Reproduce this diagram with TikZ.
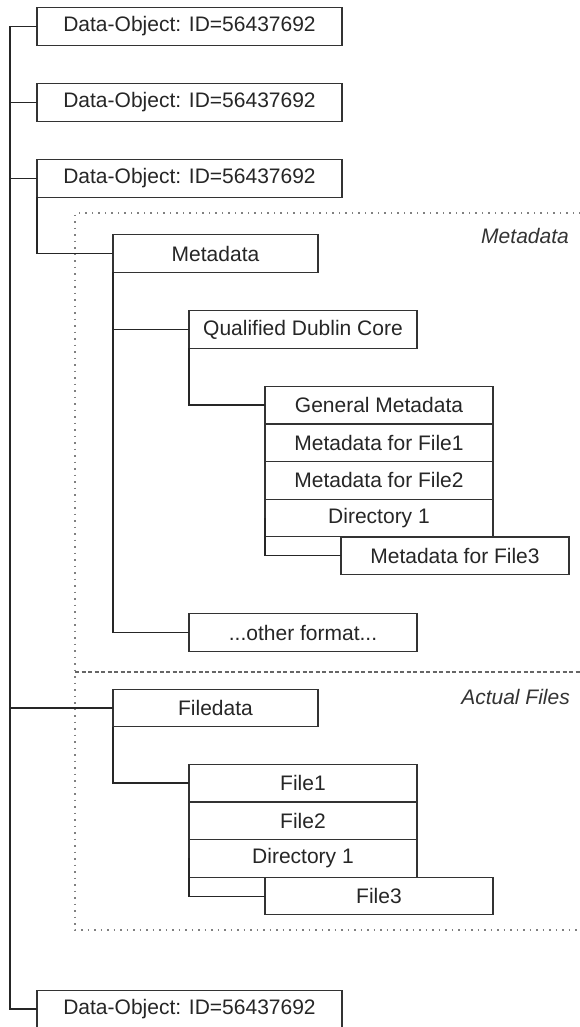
\documentclass[tikz,border=0pt]{standalone}
\usepackage{fontspec}
\setmainfont{Liberation Sans}
\usepackage{tikz}
\usetikzlibrary{positioning}
\tikzstyle{obj} = [rectangle, draw=black!80, fill=white, line width=1.2pt, minimum width=305pt, minimum height=37.5pt, inner sep=0pt, outer sep=0pt, text centered, text=black!85, font=\fontsize{21}{25}\selectfont]
\tikzstyle{part} = [obj, minimum width=205pt]
\tikzstyle{entry} = [obj, minimum width=228pt]
\tikzstyle{line} = [draw=black!85, line width=1.2pt]
\tikzstyle{trunk} = [line, line width=1.8pt]
\tikzstyle{area} = [draw=gray, line width=1.2pt, dash pattern=on 1.5pt off 5pt]
\tikzstyle{split} = [draw=black!60, line width=1.2pt, dash pattern=on 4pt off 2.5pt]
\tikzstyle{tag} = [anchor=east, inner sep=0pt, text=black!80, font=\fontsize{21}{25}\selectfont\itshape]

\begin{document}
\begin{tikzpicture}[x=1pt, y=-1pt, node distance=76pt]
    \useasboundingbox (0,0) rectangle (579,1027);
    % Areas
    \path [area] (600,213) -- (75,213) -- (75,930) -- (600,930);
    \path [split] (75,672) -- (600,672);
    \node [tag] (metatag) at (569,236) {Metadata};
    \node [tag] (filetag) at (570,697) {Actual Files};

    % Nodes
    \node [obj] (obj1) at (189.5,26.5) {Data-Object: ID=56437692};
    \node [obj, below of=obj1] (obj2) {Data-Object: ID=56437692};
    \node [obj, below of=obj2] (obj3) {Data-Object: ID=56437692};
    \node [part] (meta) at (215.5,253.5) {Metadata};
    \node [entry] (qdc) at (303,329.5) {Qualified Dublin Core};
    \node [entry] (gen) at (379,405) {General Metadata};
    \node [entry, below of=gen, node distance=37.7pt] (mfile1) {Metadata for File1};
    \node [entry, below of=mfile1, node distance=37.7pt] (mfile2) {Metadata for File2};
    \node [entry, below of=mfile2, node distance=37.7pt] (mdir) {Directory 1};
    \node [entry, below of=mdir, node distance=37.7pt, xshift=76pt] (mfile3) {Metadata for File3};
    \node [entry] (other) at (303,632.5) {...other format...};
    \node [part] (fdata) at (215.5,708) {Filedata};
    \node [entry] (file1) at (303,783) {File1};
    \node [entry, below of=file1, node distance=37.7pt] (file2) {File2};
    \node [entry, below of=file2, node distance=37.7pt] (fdir) {Directory 1};
    \node [entry, below of=fdir, node distance=37.7pt, xshift=76pt] (file3) {File3};
    \node [obj] (obj4) at (189.5,1009) {Data-Object: ID=56437692};
    \coordinate (rail) at (10,26.5);

    % Edges
    \path [trunk] (obj1.west) -- (rail) -- (rail |- obj4.west) -- (obj4.west);
    \path [trunk] (obj2.west) -- (rail |- obj2.west);
    \path [trunk] (obj3.west) -- (rail |- obj3.west);
    \path [line] (fdata.west) -- (rail |- fdata.west);
    \path [line] (obj3.south west) |- (meta.west);
    \path [line] (meta.south west) |- (qdc.west);
    \path [line] (meta.south west) |- (other.west);
    \path [line] (qdc.south west) |- (gen.west);
    \path [line] (mdir.west) |- (mfile3.west);
    \path [line] (fdata.south west) |- (file1.west);
    \path [line] (fdir.west) |- (file3.west);
\end{tikzpicture}
\end{document}
